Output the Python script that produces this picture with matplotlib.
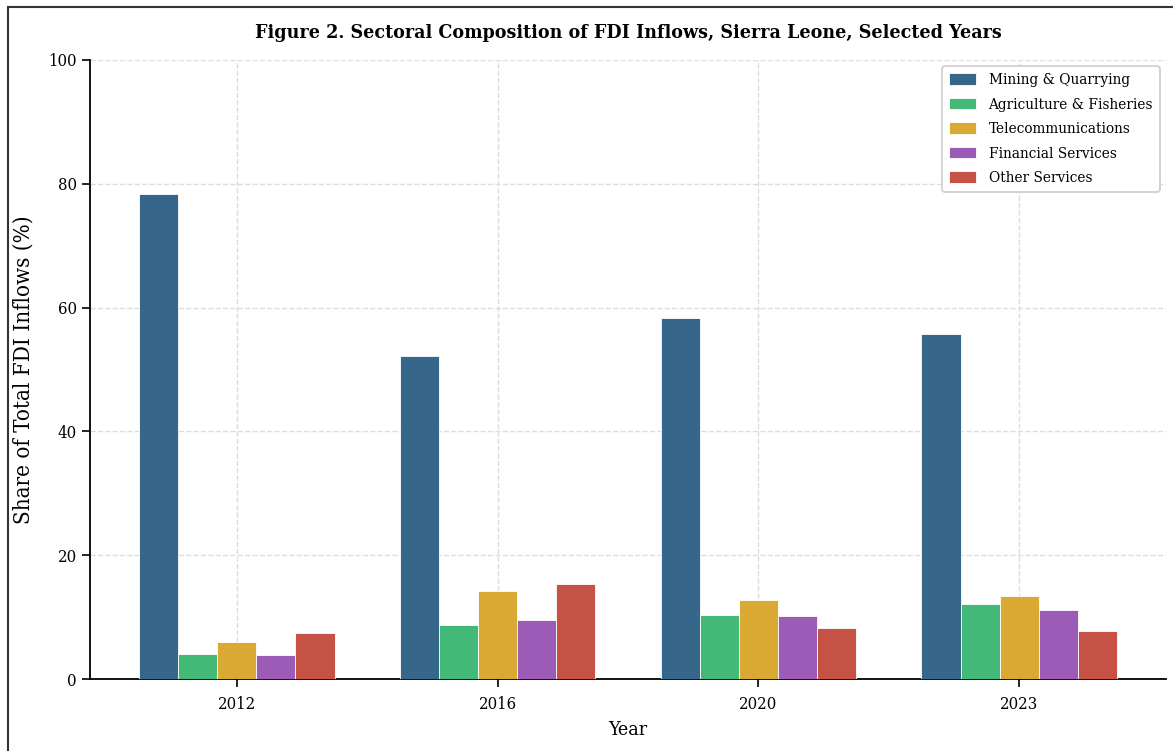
import matplotlib.pyplot as plt
import numpy as np
from matplotlib.patches import Rectangle

# data
years = ["2012", "2016", "2020", "2023"]
sectors = [
    "Mining & Quarrying",
    "Agriculture & Fisheries",
    "Telecommunications",
    "Financial Services",
    "Other Services",
]
mining = [78.4, 52.2, 58.3, 55.7]
agriculture = [4.1, 8.7, 10.3, 12.1]
telecom = [6.0, 14.2, 12.8, 13.4]
financial = [3.8, 9.6, 10.2, 11.2]
other = [7.5, 15.3, 8.2, 7.7]

colors = ["#36678a", "#42b976", "#d9a934", "#9b5bb6", "#c65246"]

plt.rcParams["font.family"] = ["DejaVu Serif"]
plt.rcParams["font.stretch"] = "condensed"

fig = plt.figure(figsize=(11.73, 7.51), dpi=100)
ax = fig.add_axes([90 / 1173, 1 - 679 / 751, (1166 - 90) / 1173, (679 - 60) / 751])

x = np.arange(len(years))
width = 0.15
series = [mining, agriculture, telecom, financial, other]
for i, (vals, name) in enumerate(zip(series, sectors)):
    ax.bar(x + (i - 2) * width, vals, width, color=colors[i], label=name,
           edgecolor="white", linewidth=0.6, zorder=3)

ax.set_ylim(0, 100)
ax.set_yticks([0, 20, 40, 60, 80, 100])
ax.set_xticks(x)
ax.set_xticklabels(years)
ax.tick_params(axis="both", labelsize=12, length=6, width=1.2)
ax.tick_params(axis="x", pad=6)
ax.set_xlabel("Year", fontsize=14, labelpad=6)
ax.set_ylabel("Share of Total FDI Inflows (%)", fontsize=16, labelpad=10)
ax.set_title("Figure 2. Sectoral Composition of FDI Inflows, Sierra Leone, Selected Years",
             fontsize=14, fontweight="bold", pad=16)

ax.grid(True, linestyle="--", color="#dddddd", linewidth=1, zorder=0)
ax.spines["top"].set_visible(False)
ax.spines["right"].set_visible(False)
ax.spines["left"].set_linewidth(1.3)
ax.spines["bottom"].set_linewidth(1.3)

leg = ax.legend(loc="upper right", fontsize=11, frameon=True, fancybox=True,
                edgecolor="#cccccc", framealpha=1, handlelength=1.8,
                handleheight=0.8, borderpad=0.45, labelspacing=0.68,
                borderaxespad=0.4)
leg.get_frame().set_linewidth(1.2)

# outer frame of the page the chart was cut from
fig.patches.append(Rectangle((8 / 1173, -0.1), 1.2, 1.1 - 7 / 751,
                             transform=fig.transFigure, fill=False,
                             edgecolor="#333333", linewidth=1.5))

fig.savefig("out.png", dpi=100)
